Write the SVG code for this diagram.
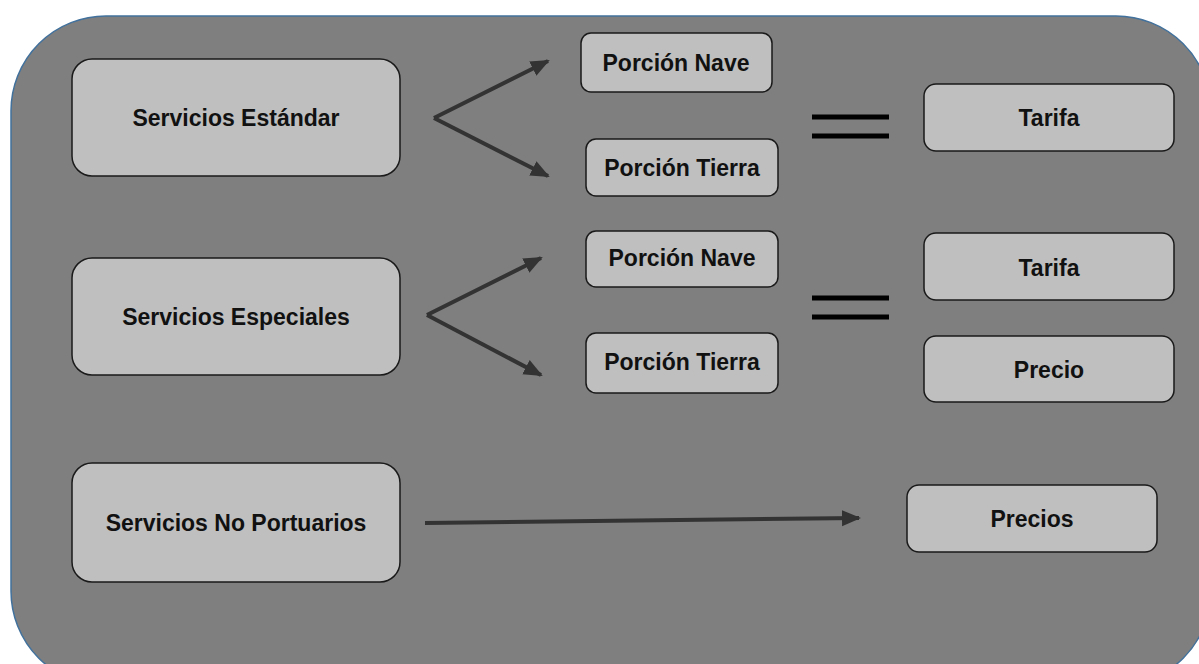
<svg xmlns="http://www.w3.org/2000/svg" width="1199" height="664" viewBox="0 0 1199 664">
<style>
.box{fill:#bfbfbf;stroke:#1a1a1a;stroke-width:1.5}
.t{font-family:"Liberation Sans",Arial,sans-serif;font-weight:bold;font-size:23px;fill:#111;text-anchor:middle}
.arr{stroke:#333;stroke-width:4;fill:none;marker-end:url(#ah)}
.eq{stroke:#000;stroke-width:5}
</style>
<defs>
<marker id="ah" markerUnits="userSpaceOnUse" markerWidth="22" markerHeight="18" refX="17" refY="8" orient="auto">
<path d="M0,0 L19,8 L0,16 Z" fill="#333"/>
</marker>
</defs>
<rect x="11" y="16" width="1200" height="670" rx="95" ry="95" fill="#7f7f7f" stroke="#41719c" stroke-width="1.5"/>
<g id="connectors">
<line class="arr" x1="434" y1="118" x2="548" y2="61"/>
<line class="arr" x1="434" y1="118" x2="548" y2="176"/>
<line class="arr" x1="427" y1="315" x2="541" y2="258"/>
<line class="arr" x1="427" y1="315" x2="541" y2="375"/>
<line class="arr" x1="425" y1="523" x2="859" y2="518"/>
<g id="eq1"><line class="eq" x1="812" y1="117" x2="889" y2="117"/><line class="eq" x1="812" y1="136" x2="889" y2="136"/></g>
<g id="eq2"><line class="eq" x1="812" y1="298" x2="889" y2="298"/><line class="eq" x1="812" y1="317" x2="889" y2="317"/></g>
</g>
<g id="n-estandar"><rect class="box" x="72" y="59" width="328" height="117" rx="20"/><text class="t" x="236" y="126">Servicios Estándar</text></g>
<g id="n-nave1"><rect class="box" x="581" y="33" width="191" height="59" rx="10"/><text class="t" x="676" y="71">Porción Nave</text></g>
<g id="n-tierra1"><rect class="box" x="586" y="139" width="192" height="57" rx="10"/><text class="t" x="682" y="176">Porción Tierra</text></g>
<g id="n-tarifa1"><rect class="box" x="924" y="84" width="250" height="67" rx="12"/><text class="t" x="1049" y="126">Tarifa</text></g>
<g id="n-especiales"><rect class="box" x="72" y="258" width="328" height="117" rx="20"/><text class="t" x="236" y="325">Servicios Especiales</text></g>
<g id="n-nave2"><rect class="box" x="586" y="231" width="192" height="56" rx="10"/><text class="t" x="682" y="266">Porción Nave</text></g>
<g id="n-tierra2"><rect class="box" x="586" y="333" width="192" height="60" rx="10"/><text class="t" x="682" y="370">Porción Tierra</text></g>
<g id="n-tarifa2"><rect class="box" x="924" y="233" width="250" height="67" rx="12"/><text class="t" x="1049" y="276">Tarifa</text></g>
<g id="n-precio"><rect class="box" x="924" y="336" width="250" height="66" rx="12"/><text class="t" x="1049" y="378">Precio</text></g>
<g id="n-noport"><rect class="box" x="72" y="463" width="328" height="119" rx="20"/><text class="t" x="236" y="531">Servicios No Portuarios</text></g>
<g id="n-precios"><rect class="box" x="907" y="485" width="250" height="67" rx="12"/><text class="t" x="1032" y="527">Precios</text></g>
</svg>
